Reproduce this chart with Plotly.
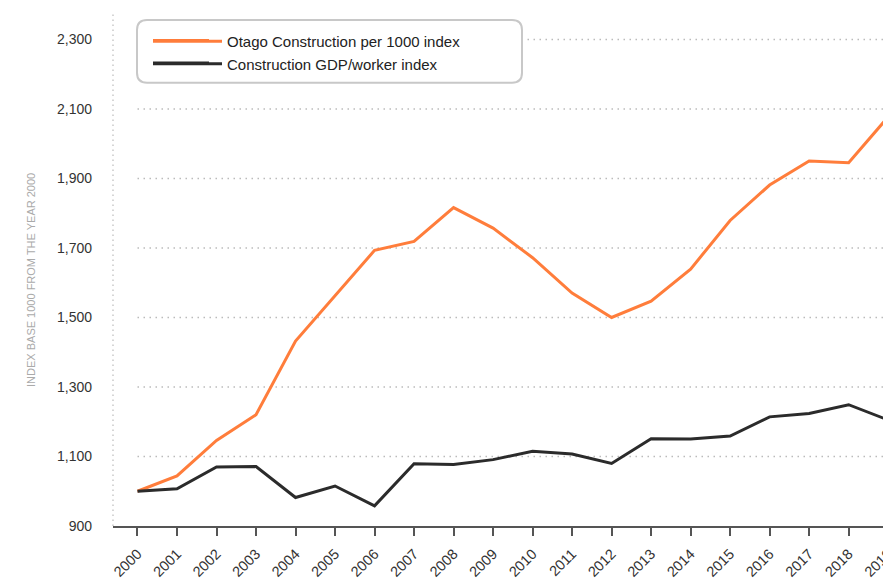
import plotly.graph_objects as go

years = [str(y) for y in range(2000, 2020)]
otago_index = [1000, 1044, 1146, 1220, 1432, 1564, 1693, 1719, 1816, 1757,
               1672, 1570, 1500, 1547, 1639, 1779, 1881, 1950, 1945, 2077]
gdp_worker_index = [1000, 1007, 1070, 1071, 982, 1015, 958, 1079, 1077, 1091,
                    1115, 1107, 1080, 1151, 1150, 1159, 1214, 1224, 1249, 1205]
y_ticks = [900, 1100, 1300, 1500, 1700, 1900, 2100, 2300]
series_names = ["Otago Construction per 1000 index", "Construction GDP/worker index"]
y_title = "INDEX BASE 1000 FROM THE YEAR 2000"

ORANGE = "#FF7D3B"
DARK = "#2B2B2B"
FONT = "Liberation Sans, Arial, Helvetica, sans-serif"

# canvas is a little wider than the 883px window; the right edge is cropped as in the source
W, H = 900, 580
ML, MR, MT, MB = 113, 0, 13, 52
x_range = [-0.62, 19.30]
y_range = [900, 2376]

fig = go.Figure()
fig.add_trace(go.Scatter(x=years, y=otago_index, mode="lines", name=series_names[0],
                         line=dict(color=ORANGE, width=3)))
fig.add_trace(go.Scatter(x=years, y=gdp_worker_index, mode="lines", name=series_names[1],
                         line=dict(color=DARK, width=3)))

pw = W - ML - MR
ph = H - MT - MB
def px2paper_x(px):
    return (px - ML) / pw
def px2paper_y(py):
    return (H - MB - py) / ph

shapes = []
# dotted horizontal grid starting at the first category
for v in y_ticks[1:]:
    shapes.append(dict(type="line", xref="x", yref="y", x0=0, x1=x_range[1], y0=v, y1=v,
                       line=dict(color="#BBBBBB", width=1.5, dash="1.5px,4.5px"), layer="below"))
# dotted vertical axis line
shapes.append(dict(type="line", xref="paper", yref="paper", x0=0, x1=0, y0=0, y1=1,
                   line=dict(color="#BBBBBB", width=1.2, dash="1.5px,3.5px"), layer="below"))
# rounded legend box
bx0, bx1, by0, by1, r = 137, 522, 20, 83, 10
path = (f"M {px2paper_x(bx0 + r)},{px2paper_y(by0)} L {px2paper_x(bx1 - r)},{px2paper_y(by0)} "
        f"Q {px2paper_x(bx1)},{px2paper_y(by0)} {px2paper_x(bx1)},{px2paper_y(by0 + r)} "
        f"L {px2paper_x(bx1)},{px2paper_y(by1 - r)} "
        f"Q {px2paper_x(bx1)},{px2paper_y(by1)} {px2paper_x(bx1 - r)},{px2paper_y(by1)} "
        f"L {px2paper_x(bx0 + r)},{px2paper_y(by1)} "
        f"Q {px2paper_x(bx0)},{px2paper_y(by1)} {px2paper_x(bx0)},{px2paper_y(by1 - r)} "
        f"L {px2paper_x(bx0)},{px2paper_y(by0 + r)} "
        f"Q {px2paper_x(bx0)},{px2paper_y(by0)} {px2paper_x(bx0 + r)},{px2paper_y(by0)} Z")
shapes.append(dict(type="path", xref="paper", yref="paper", path=path,
                   fillcolor="white", line=dict(color="#C8C8C8", width=2), layer="above"))
# longer legend key lines (legend decoration)
for i, col in enumerate([ORANGE, DARK]):
    yy = px2paper_y(40.7 + i * 22.6)
    shapes.append(dict(type="line", xref="paper", yref="paper",
                       x0=px2paper_x(153), x1=px2paper_x(209), y0=yy, y1=yy,
                       line=dict(color=col, width=3), layer="above"))

fig.update_layout(
    width=W, height=H,
    margin=dict(l=ML, r=MR, t=MT, b=MB, pad=0),
    paper_bgcolor="white", plot_bgcolor="white",
    font=dict(family=FONT, size=14, color="#333333"),
    showlegend=True,
    legend=dict(x=px2paper_x(148), y=px2paper_y(25), xanchor="left", yanchor="top",
                bgcolor="rgba(0,0,0,0)", borderwidth=0, itemwidth=69,
                font=dict(family=FONT, size=15, color="#222222")),
    shapes=shapes,
    xaxis=dict(type="category", range=x_range, showgrid=False, zeroline=False,
               showline=True, linecolor="#555555", linewidth=1.5,
               ticks="outside", ticklen=8, tickwidth=1.5, tickcolor="#555555",
               tickangle=-45, ticklabelstandoff=4,
               tickfont=dict(size=14.5, color="#333333")),
    yaxis=dict(range=y_range, showgrid=False, zeroline=False, showline=False,
               tickvals=y_ticks, tickformat=",", ticks="", ticklabelstandoff=20,
               tickfont=dict(size=14, color="#333333")),
    annotations=[dict(text=y_title, xref="paper", yref="paper",
                      x=px2paper_x(31), y=px2paper_y(281), xanchor="center", yanchor="middle",
                      textangle=-90, showarrow=False,
                      font=dict(family=FONT, size=11, color="#AAAAAA"))],
)

fig.write_html("out.html", config={"displayModeBar": False},
               post_script="document.body.style.margin='0';document.body.style.overflow='hidden';")
